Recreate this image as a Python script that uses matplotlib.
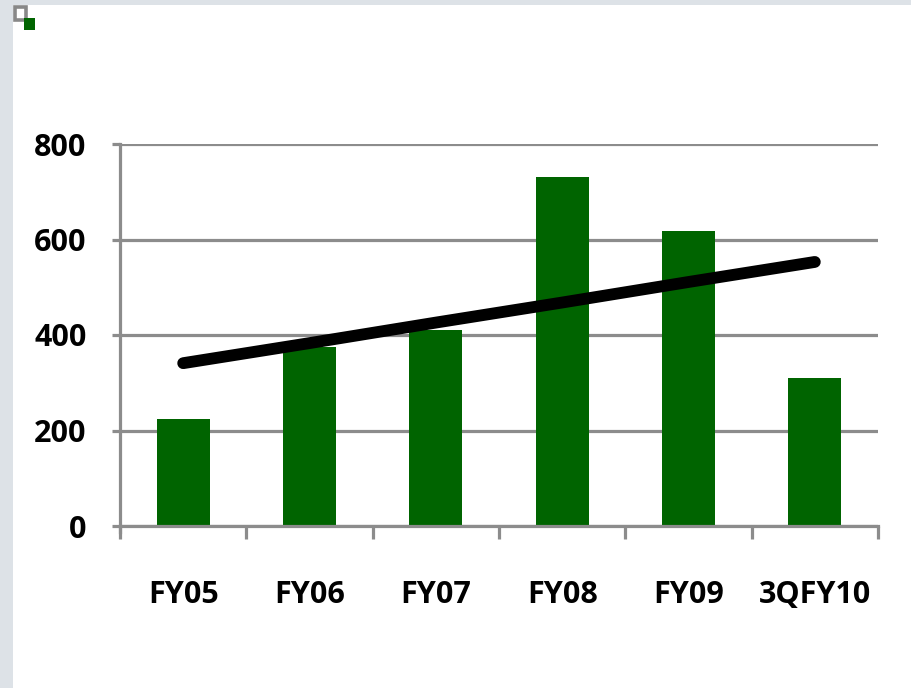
import numpy as np
import matplotlib.pyplot as plt
from matplotlib.patches import Rectangle

categories = ['FY05', 'FY06', 'FY07', 'FY08', 'FY09', '3QFY10']
values = [224, 375, 410, 731, 618, 310]
trend = [341, 383, 426, 468, 511, 553]
yticks = [0, 200, 400, 600, 800]

plt.rcParams['font.family'] = ['Liberation Sans Narrow', 'Open Sans', 'DejaVu Sans']

W, H = 912, 688
fig = plt.figure(figsize=(W / 100, H / 100), dpi=100, facecolor='white')

####背景边框
fig.patches.append(Rectangle((0, 0), 13 / W, 1, transform=fig.transFigure,
                             facecolor='#dde2e7', edgecolor='none', zorder=0))
fig.patches.append(Rectangle((0, 1 - 5 / H), 1, 5 / H, transform=fig.transFigure,
                             facecolor='#dde2e7', edgecolor='none', zorder=0))
####小图标
fig.patches.append(Rectangle((15 / W, 1 - 20 / H), 11 / W, 13 / H, transform=fig.transFigure,
                             facecolor='white', edgecolor='#888888', lw=2.6, zorder=1))
fig.patches.append(Rectangle((24 / W, 1 - 30 / H), 11 / W, 12 / H, transform=fig.transFigure,
                             facecolor='#006400', edgecolor='none', zorder=2))

ax = fig.add_axes([120 / W, 1 - 526 / H, 758 / W, 382 / H])
x = np.arange(len(categories))

ax.bar(x, values, width=0.42, color='#006400', zorder=2)
ax.plot(x, trend, color='black', lw=8.5, solid_capstyle='round', zorder=3)

ax.set_xlim(-0.5, len(categories) - 0.5)
ax.set_ylim(0, 800)
ax.set_yticks(yticks)
ax.set_yticklabels([str(v) for v in yticks], fontsize=22, fontweight='bold')
ax.yaxis.grid(True, color='#8c8c8c', lw=2.3, zorder=1)
ax.set_axisbelow(True)

ax.set_xticks(np.arange(-0.5, len(categories)), labels=[])
ax.set_xticks(x, labels=categories, minor=True)
ax.tick_params(axis='x', which='major', length=9, width=2.3, color='#8c8c8c', direction='out')
ax.tick_params(axis='x', which='minor', length=0, pad=39, labelsize=22)
for lbl in ax.get_xticklabels(minor=True):
    lbl.set_fontweight('bold')
ax.tick_params(axis='y', length=6, width=2.3, color='#8c8c8c', pad=18)

for s in ['top', 'right']:
    ax.spines[s].set_visible(False)
for s in ['left', 'bottom']:
    ax.spines[s].set_color('#8c8c8c')
    ax.spines[s].set_linewidth(2.3)
ax.spines['left'].set_bounds(-12, 800)

plt.savefig('out.png', dpi=100, facecolor='white')
